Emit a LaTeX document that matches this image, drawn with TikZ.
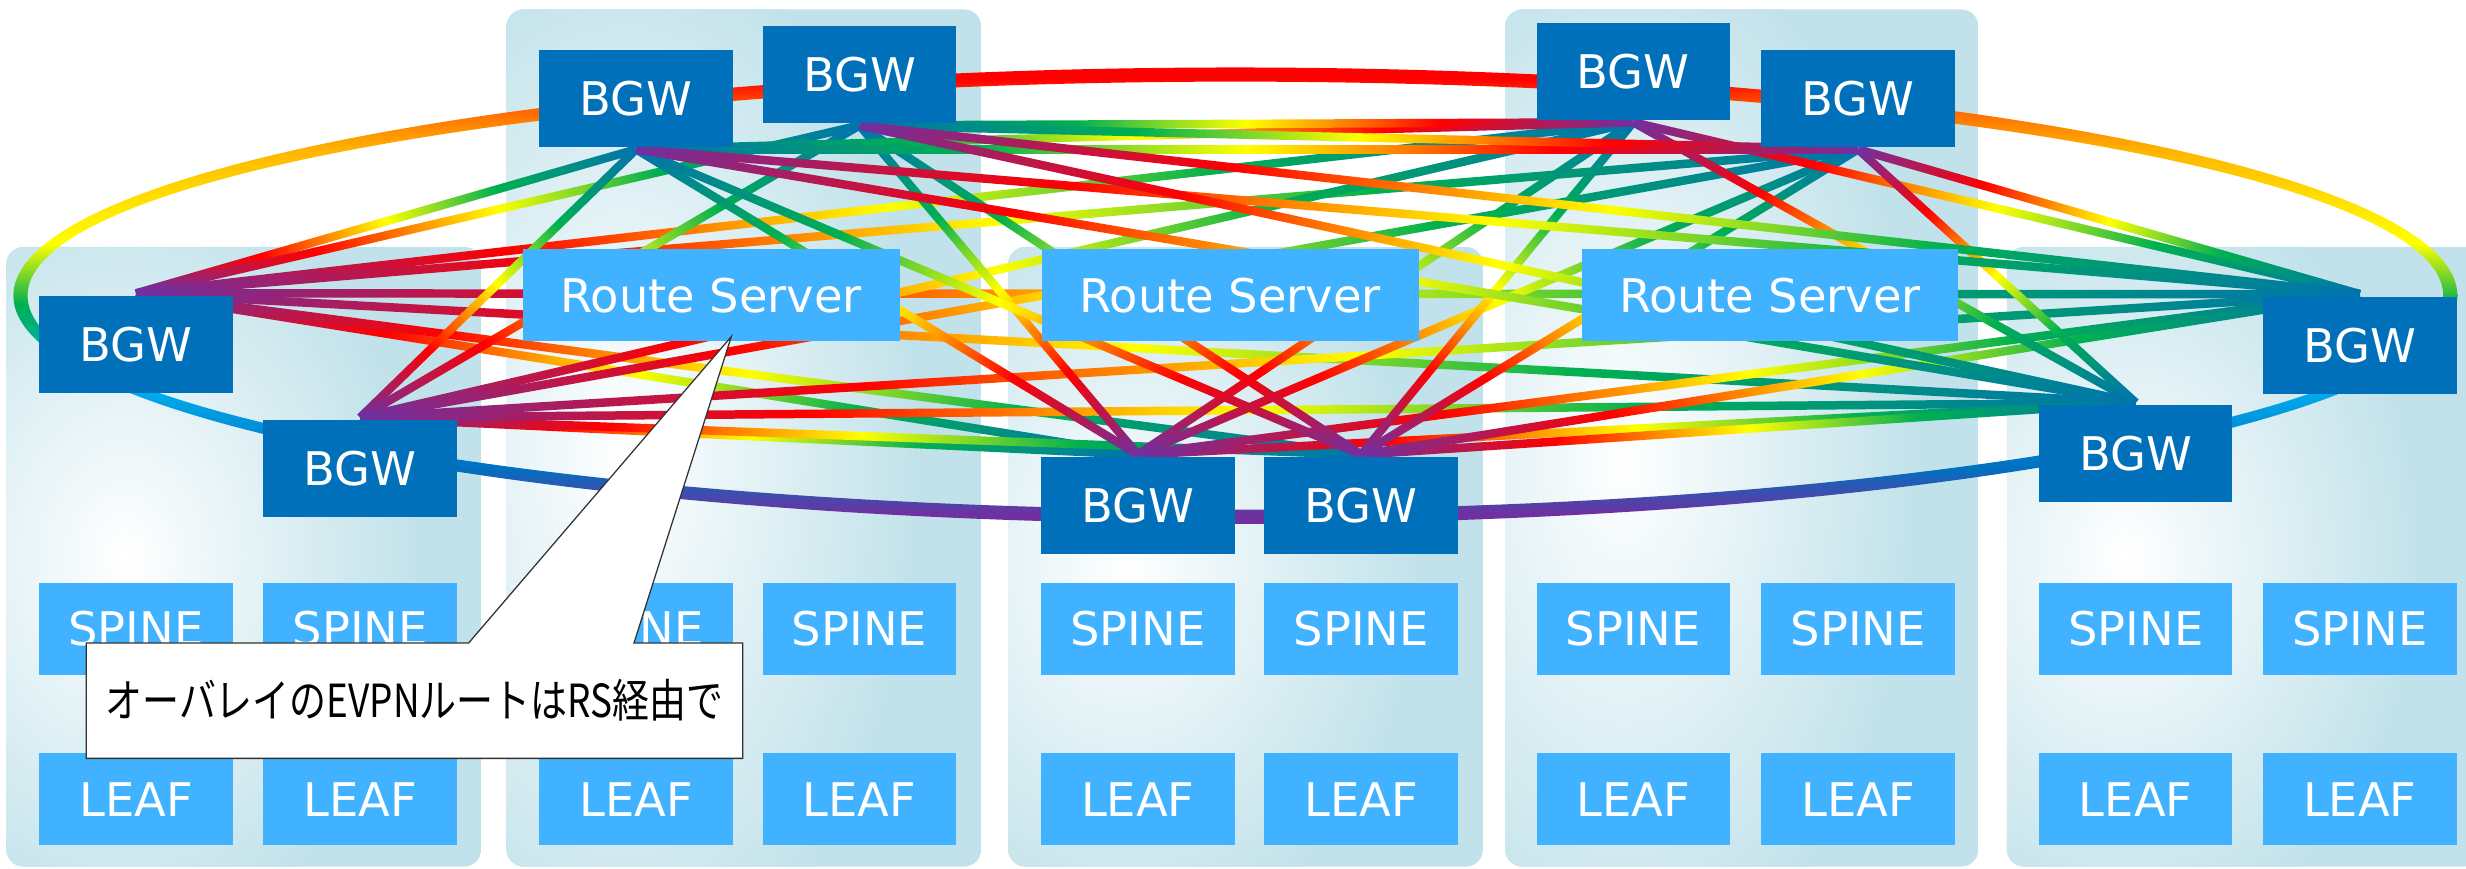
\documentclass[tikz,border=0pt]{standalone}
\usepackage{fontspec}
\setmainfont{DejaVu Sans}
\newfontfamily\jpfont{Noto Sans CJK JP}[FakeStretch=0.81]
\usetikzlibrary{calc}

\definecolor{bgwblue}{RGB}{0,112,187}
\definecolor{liteblue}{RGB}{65,178,255}
\definecolor{panelblue}{RGB}{193,226,234}
\definecolor{mPurple}{RGB}{112,48,160}
\definecolor{mOrange}{RGB}{255,130,0}
\definecolor{mGreen}{RGB}{0,176,80}
\definecolor{mEnd}{RGB}{0,115,175}
\definecolor{rCyan}{RGB}{0,176,240}
\definecolor{rBlue}{RGB}{0,112,192}
\definecolor{rOrange}{RGB}{255,110,0}
\definecolor{rAmber}{RGB}{255,180,0}
\definecolor{rGold}{RGB}{255,222,0}
\definecolor{calloutline}{RGB}{50,50,50}

% rainbow along each peering link: purple at the first end, blue-teal at the other
\pgfdeclarehorizontalshading{meshgrad}{100bp}{color(0bp)=(mPurple); color(25bp)=(mPurple);
  color(37.5bp)=(red); color(43.75bp)=(mOrange); color(50bp)=(yellow);
  color(61bp)=(mGreen); color(75bp)=(mEnd); color(100bp)=(mEnd)}

% vertical rainbow for the outer ring: red on top, purple at the bottom
\pgfdeclareverticalshading{ringgrad}{100bp}{color(0bp)=(mPurple); color(26.2bp)=(mPurple);
  color(31.2bp)=(rBlue); color(40.2bp)=(rCyan); color(49.1bp)=(mGreen);
  color(55.7bp)=(yellow); color(60.8bp)=(rGold); color(65.9bp)=(rAmber);
  color(69.9bp)=(rOrange); color(73.6bp)=(red); color(100bp)=(red)}

\pgfdeclarelayer{panels}
\pgfdeclarelayer{links}
\pgfdeclarelayer{calloutbg}
\pgfdeclarelayer{callouttop}
\pgfsetlayers{panels,links,main,calloutbg,callouttop}

\newcommand\labelfont{\fontsize{29.5}{34}\selectfont}
\newcommand\notefont{\jpfont\fontsize{29}{33}\selectfont}

\tikzset{
  box/.style={inner sep=0pt, minimum width=123pt, text=white, font=\labelfont},
  bgw/.style={box, fill=bgwblue, minimum height=61.5pt},
  tier/.style={box, fill=liteblue, minimum height=58.5pt},
  rsbox/.style={tier, minimum width=239.5pt},
}

% gradient link between two named points
\newcommand\meshline[2]{%
  \pgfpointanchor{#1}{center}\pgfgetlastxy{\mlxa}{\mlya}%
  \pgfpointanchor{#2}{center}\pgfgetlastxy{\mlxb}{\mlyb}%
  \pgfmathsetmacro\mlang{atan2((\mlyb)-(\mlya),(\mlxb)-(\mlxa))}%
  \pgfmathsetmacro\mllen{veclen((\mlxb)-(\mlxa),(\mlyb)-(\mlya))}%
  \begin{scope}[transform canvas={shift={(\mlxa,\mlya)},rotate=\mlang}]
    \shade[shading=meshgrad] (0pt,-2.7pt) rectangle (\mllen pt,2.7pt);
  \end{scope}}

% pod background: rounded panel with a soft white glow
\newcommand\podpanel[7]{%
  \begin{scope}
    \clip[rounded corners=11pt] (#1,#2) rectangle (#3,#4);
    \fill[panelblue] (#1,#2) rectangle (#3,#4);
    \shade[inner color=white, outer color=panelblue] (#5,#6) ellipse [x radius=187pt, y radius=#7pt];
  \end{scope}}

\begin{document}
\begin{tikzpicture}[x=1pt,y=-1pt]
\useasboundingbox (0,0) rectangle (1568,552);

% border gateways
\node[bgw] (A) at (86.5,219) {BGW};
\node[bgw] (B) at (229,298) {BGW};
\node[bgw] (C) at (404.5,62.5) {BGW};
\node[bgw] (D) at (546.5,47.3) {BGW};
\node[bgw] (E) at (723.5,321.5) {BGW};
\node[bgw] (F) at (865.5,321.5) {BGW};
\node[bgw] (G) at (1038.5,45.3) {BGW};
\node[bgw] (H) at (1181.5,62.5) {BGW};
\node[bgw] (I) at (1358,288.5) {BGW};
\node[bgw] (J) at (1500.5,219.5) {BGW};

% route servers
\node[rsbox] (RS1) at (452.25,187.75) {Route Server};
\node[rsbox] (RS2) at (782.25,187.75) {Route Server};
\node[rsbox] (RS3) at (1125.5,187.75) {Route Server};

% spine and leaf tiers
\foreach \x [count=\i] in {86.5,229,404.5,546.5,723.5,865.5,1038.5,1181.5,1358,1500.5} {
  \node[tier] (S\i) at (\x,399.75) {SPINE};
  \node[tier] (L\i) at (\x,508.25) {LEAF};
}

% link end points on the gateways
\coordinate (pA) at ($(A.north)+(0,-1.5)$);
\coordinate (pB) at ($(B.north)+(0,-1.5)$);
\coordinate (pC) at ($(C.south)+(0,1.5)$);
\coordinate (pD) at ($(D.south)+(0,1.5)$);
\coordinate (pE) at ($(E.north)+(0,-1.5)$);
\coordinate (pF) at ($(F.north)+(0,-1.5)$);
\coordinate (pG) at ($(G.south)+(0,1.5)$);
\coordinate (pH) at ($(H.south)+(0,1.5)$);
\coordinate (pI) at ($(I.north)+(0,-1.5)$);
\coordinate (pJ) at ($(J.north)+(0,-1.5)$);

\begin{pgfonlayer}{panels}
  \fill[white] (0,0) rectangle (1568,552);
  \podpanel{4}{157}{306}{551}{79.5}{354}{244}
  \podpanel{322}{6}{624}{551}{397.5}{290}{338}
  \podpanel{641}{157}{943}{551}{716.5}{354}{244}
  \podpanel{957}{6}{1258}{551}{1032.25}{290}{338}
  \podpanel{1276}{157}{1578}{551}{1351.5}{354}{244}
\end{pgfonlayer}

\begin{pgfonlayer}{links}
  % outer ring
  \begin{scope}
    \clip (1562.5,188) arc[start angle=0,end angle=360,x radius=777pt,y radius=145.1pt] -- cycle
          (1553.5,188) arc[start angle=360,end angle=0,x radius=768pt,y radius=136.1pt] -- cycle;
    \shade[shading=ringgrad] (0,42) rectangle (1568,334);
  \end{scope}
  % full mesh between gateways of different pods
  \foreach \s/\t in {A/C,A/D,A/E,A/F,A/G,A/H,A/I,A/J,
                     B/C,B/D,B/E,B/F,B/G,B/H,B/I,B/J,
                     E/C,E/D,E/G,E/H,E/I,E/J,
                     F/C,F/D,F/G,F/H,F/I,F/J,
                     G/C,G/D,G/I,G/J,
                     H/C,H/D,H/I,H/J,
                     C/I,C/J,D/I,D/J}
    {\meshline{p\s}{p\t}}
\end{pgfonlayer}

% callout
\coordinate (tip) at (465,214);
\begin{pgfonlayer}{callouttop}
  \node[font=\notefont, inner sep=0pt, minimum width=417pt, minimum height=73pt] (note)
    at (263.5,445.5) {オーバレイのEVPNルートはRS経由で};
\end{pgfonlayer}
\begin{pgfonlayer}{calloutbg}
  \filldraw[fill=white, draw=calloutline, line width=0.8pt]
    (note.north west) -- ($(note.north west)!0.5827!(note.north east)$) -- (tip)
    -- ($(note.north west)!0.8345!(note.north east)$) -- (note.north east)
    -- (note.south east) -- (note.south west) -- cycle;
\end{pgfonlayer}
\end{tikzpicture}
\end{document}
